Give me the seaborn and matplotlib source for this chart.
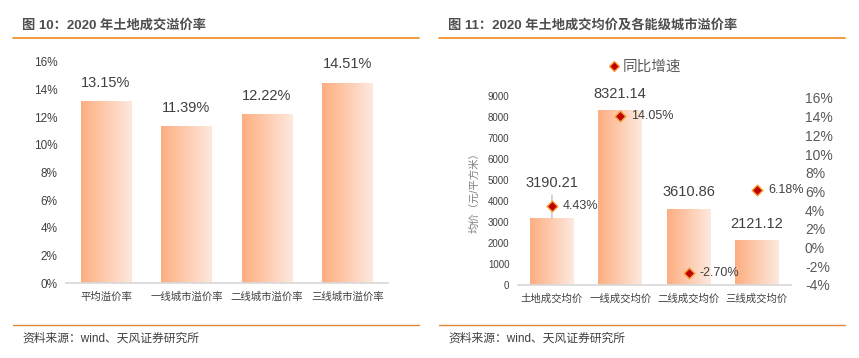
import numpy as np
import pandas as pd
import matplotlib
matplotlib.use("Agg")
import matplotlib.pyplot as plt
import seaborn as sns
from matplotlib.colors import LinearSegmentedColormap
from matplotlib.lines import Line2D

# ---------------- data ----------------
left_title = "图 10：2020 年土地成交溢价率"
right_title = "图 11：2020 年土地成交均价及各能级城市溢价率"
left_cats = ["平均溢价率", "一线城市溢价率", "二线城市溢价率", "三线城市溢价率"]
left_vals = [13.15, 11.39, 12.22, 14.51]
right_cats = ["土地成交均价", "一线成交均价", "二线成交均价", "三线成交均价"]
right_price = [3190.21, 8321.14, 3610.86, 2121.12]
right_yoy = [4.43, 14.05, -2.70, 6.18]
legend_label = "同比增速"
ylabel_right = "均价（元/平方米）"
source = "资料来源：wind、天风证券研究所"

sns.set_theme(style="white")
plt.rcParams['font.family'] = ['Liberation Sans', 'Noto Sans CJK SC', 'DejaVu Sans']
plt.rcParams['axes.unicode_minus'] = False

W, H = 859, 358
fig = plt.figure(figsize=(W / 100, H / 100), dpi=100)

def fx(px):
    return px / W

def fy(py):
    return 1 - py / H

grad = LinearSegmentedColormap.from_list("g", ["#FDAE80", "#FEE9DF"])
TXT = "#404040"

def gradient_bars(ax):
    for p in ax.patches:
        x0, y0 = p.get_x(), p.get_y()
        w, h = p.get_width(), p.get_height()
        im = ax.imshow(np.linspace(0, 1, 256).reshape(1, -1), cmap=grad, aspect="auto",
                       extent=[x0, x0 + w, y0, y0 + h], zorder=p.get_zorder(),
                       interpolation="bilinear")
        im.set_clip_path(p)
        p.set_alpha(0)

# ---------------- left chart ----------------
axL = fig.add_axes([fx(65.7), fy(283), fx(322), (283 - 62) / H])
dfL = pd.DataFrame({"cat": left_cats, "val": left_vals})
sns.barplot(data=dfL, x="cat", y="val", ax=axL, width=0.63, color="#FDB38A", saturation=1)
gradient_bars(axL)
axL.set_xlim(-0.5, 3.5)
axL.set_ylim(0, 16)
axL.set_yticks(np.arange(0, 17, 2))
axL.set_yticklabels([f"{v}%" for v in range(0, 17, 2)], fontsize=8.5, color=TXT)
axL.set_xticks(range(4))
axL.set_xticklabels(left_cats, fontsize=7.5, color=TXT)
axL.set_xlabel("")
axL.set_ylabel("")
for s in ["top", "right", "left"]:
    axL.spines[s].set_visible(False)
axL.spines["bottom"].set_color("#D9D9D9")
axL.tick_params(axis="both", length=0, pad=6)
for i, v in enumerate(left_vals):
    axL.annotate(f"{v:.2f}%", (i, v), xytext=(0, 8), textcoords="offset points",
                 ha="center", va="bottom", fontsize=10.5, color=TXT)

# ---------------- right chart ----------------
axR = fig.add_axes([fx(517.8), fy(285), fx(273.2), (285 - 96) / H])
dfR = pd.DataFrame({"cat": right_cats, "price": right_price})
sns.barplot(data=dfR, x="cat", y="price", ax=axR, width=0.64, color="#FDB38A", saturation=1)
gradient_bars(axR)
axR.set_xlim(-0.5, 3.5)
axR.set_ylim(0, 9000)
axR.set_yticks(np.arange(0, 9001, 1000))
axR.set_yticklabels([str(v) for v in range(0, 9001, 1000)], fontsize=7, color=TXT)
axR.set_xticks(range(4))
axR.set_xticklabels(right_cats, fontsize=7.5, color=TXT)
axR.set_xlabel("")
axR.set_ylabel(ylabel_right, fontsize=7.5, color="#7F7F7F", labelpad=6)
for s in ["top", "right", "left"]:
    axR.spines[s].set_visible(False)
axR.spines["bottom"].set_color("#D9D9D9")
axR.tick_params(axis="both", length=0, pad=6)
offsets = [20, 7, 7, 7]
for i, v in enumerate(right_price):
    kw = {}
    if i == 0:
        kw["arrowprops"] = dict(arrowstyle="-", color="#A6A6A6", lw=0.7,
                                shrinkA=1, shrinkB=0)
    axR.annotate(f"{v:.2f}", (i, v), xytext=(0, offsets[i]), textcoords="offset points",
                 ha="center", va="bottom", fontsize=10.5, color=TXT, **kw)

axT = axR.twinx()
dfS = pd.DataFrame({"x": np.arange(4), "yoy": right_yoy})
sns.scatterplot(data=dfS, x="x", y="yoy", ax=axT, marker="D", s=30,
                color="#C00000", edgecolor="#F7A23A", linewidth=1.0, zorder=5, legend=False)
axT.set_ylim(-4, 16.2)
axT.set_yticks(np.arange(-4, 17, 2))
axT.set_yticklabels([f"{v}%" for v in range(-4, 17, 2)], fontsize=10, color="#595959")
axT.set_ylabel("")
axT.set_xlabel("")
for s in ["top", "right", "left", "bottom"]:
    axT.spines[s].set_visible(False)
axT.tick_params(axis="both", length=0, pad=10)
for i, v in enumerate(right_yoy):
    axT.annotate(f"{v:.2f}%", (i, v), xytext=(8, 0), textcoords="offset points",
                 ha="left", va="center", fontsize=9, color=TXT)

handle = Line2D([], [], marker="D", linestyle="none", markersize=5,
                markerfacecolor="#C00000", markeredgecolor="#F7A23A")
fig.legend([handle], [legend_label], loc="center", bbox_to_anchor=(fx(644), fy(67)),
           frameon=False, fontsize=10.5, handletextpad=0.1, handlelength=1.0,
           labelcolor="#595959")

# ---------------- titles / lines / sources ----------------
for x0, x1, title in [(13, 419, left_title), (439, 845, right_title)]:
    fig.text(fx(x0 + 9), fy(25), title, fontsize=9.5, fontweight="bold",
             color="#4D4D4D", va="center", ha="left")
    fig.add_artist(Line2D([fx(x0), fx(x1)], [fy(38), fy(38)], color="#F08A1C", lw=1.2))
    fig.add_artist(Line2D([fx(x0), fx(x1)], [fy(325), fy(325)], color="#E0893A", lw=1.0))
    fig.text(fx(x0 + 9), fy(339), source, fontsize=8.5, color=TXT, va="center", ha="left")

fig.savefig("out.png", dpi=100, facecolor="white")
